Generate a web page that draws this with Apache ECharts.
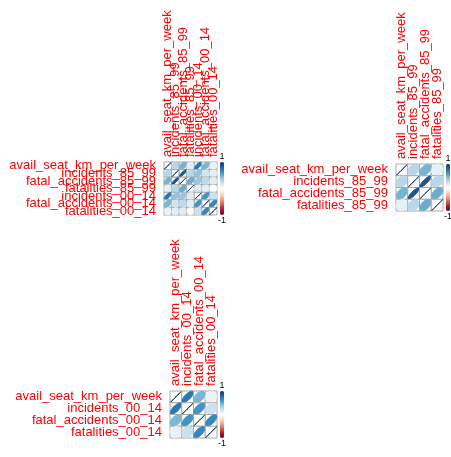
<!DOCTYPE html>
<html><head><meta charset="utf-8">
<script src="https://cdn.jsdelivr.net/npm/echarts@6/dist/echarts.min.js"></script>
<style>html,body{margin:0;padding:0;background:#fff}#c{width:451px;height:457px}</style>
</head><body><div id="c"></div>
<script>
// variable names
const varsAll = ['avail_seat_km_per_week','incidents_85_99','fatal_accidents_85_99','fatalities_85_99','incidents_00_14','fatal_accidents_00_14','fatalities_00_14'];
const vars85 = ['avail_seat_km_per_week','incidents_85_99','fatal_accidents_85_99','fatalities_85_99'];
const vars00 = ['avail_seat_km_per_week','incidents_00_14','fatal_accidents_00_14','fatalities_00_14'];
// correlation rows (estimated)
const rAvail = [1.00, 0.28, 0.47, 0.11, 0.73, 0.46, 0.10];
const rInc85 = [0.28, 1.00, 0.86, 0.28, 0.40, 0.20, 0.12];
const rFa85  = [0.47, 0.86, 1.00, 0.50, 0.38, 0.27, 0.14];
const rFat85 = [0.11, 0.28, 0.50, 1.00, 0.15, 0.12, -0.03];
const rInc00 = [0.73, 0.40, 0.38, 0.15, 1.00, 0.60, 0.22];
const rFa00  = [0.46, 0.20, 0.27, 0.12, 0.60, 1.00, 0.66];
const rFat00 = [0.10, 0.12, 0.14, -0.03, 0.22, 0.66, 1.00];
const colorScale = ['#67001F','#B2182B','#D6604D','#F4A582','#FDDBC7','#FFFFFF','#D1E5F0','#92C5DE','#4393C3','#2166AC','#053061'];

const rows = [rAvail, rInc85, rFa85, rFat85, rInc00, rFa00, rFat00];
function sub(idx){ const d=[]; idx.forEach((ri,i)=>idx.forEach((ci,j)=>d.push([j,i,rows[ri][ci]]))); return d; }
const data1 = sub([0,1,2,3,4,5,6]);
const data2 = sub([0,1,2,3]);
const data3 = sub([0,4,5,6]);

const panels = [
  {names: varsAll, data: data1, left:164, top:162, size:53},
  {names: vars85, data: data2, left:396, top:164, size:47},
  {names: vars00, data: data3, left:170, top:391, size:47}
];
const font = 'Liberation Sans, Arial, sans-serif';
function renderItem(params, api){
  const c = api.coord([api.value(0), api.value(1)]);
  const s = api.size([1,1]);
  const w = s[0], h = s[1];
  const r = api.value(2);
  const d = Math.acos(Math.max(-1,Math.min(1,r)))/2;
  const pts = [];
  const n = 72;
  for(let i=0;i<n;i++){ const k=2*Math.PI*i/n; pts.push([c[0]+Math.cos(k+d)*0.48*w, c[1]-Math.cos(k-d)*0.48*h]); }
  const col = api.visual('color');
  return {type:'group', children:[
    {type:'rect', shape:{x:c[0]-w/2,y:c[1]-h/2,width:w,height:h}, style:{fill:'#ffffff', stroke:'#a8a8a8', lineWidth:1}},
    {type:'polygon', shape:{points:pts}, style:{fill:col, stroke:col, lineWidth:1}}
  ]};
}
const option = {animation:false, grid:[], xAxis:[], yAxis:[], series:[], visualMap:[]};
panels.forEach((p,i)=>{
  option.grid.push({left:p.left, top:p.top, width:p.size, height:p.size, containLabel:false});
  option.xAxis.push({type:'category', gridIndex:i, data:p.names, position:'top',
    axisLine:{show:false}, axisTick:{show:false}, splitLine:{show:false},
    axisLabel:{rotate:-90, interval:0, margin:5, color:'#FF0000', fontSize:13, fontFamily:font}});
  option.yAxis.push({type:'category', gridIndex:i, data:p.names, inverse:true,
    axisLine:{show:false}, axisTick:{show:false}, splitLine:{show:false},
    axisLabel:{interval:0, margin:8, color:'#FF0000', fontSize:13, fontFamily:font}});
  option.series.push({type:'custom', xAxisIndex:i, yAxisIndex:i, data:p.data, encode:{x:0,y:1}, renderItem});
  option.visualMap.push({type:'continuous', seriesIndex:i, dimension:2, min:-1, max:1, calculable:false,
    inRange:{color:colorScale}, orient:'vertical', left:p.left+p.size+1, top:p.top-10, itemWidth:4, itemHeight:p.size,
    padding:0, text:['1','-1'], textGap:1, textStyle:{fontSize:9, color:'#000', fontFamily:font}});
});
const chart = echarts.init(document.getElementById('c'), null, {renderer:'canvas'});
chart.setOption(option);
</script></body></html>
